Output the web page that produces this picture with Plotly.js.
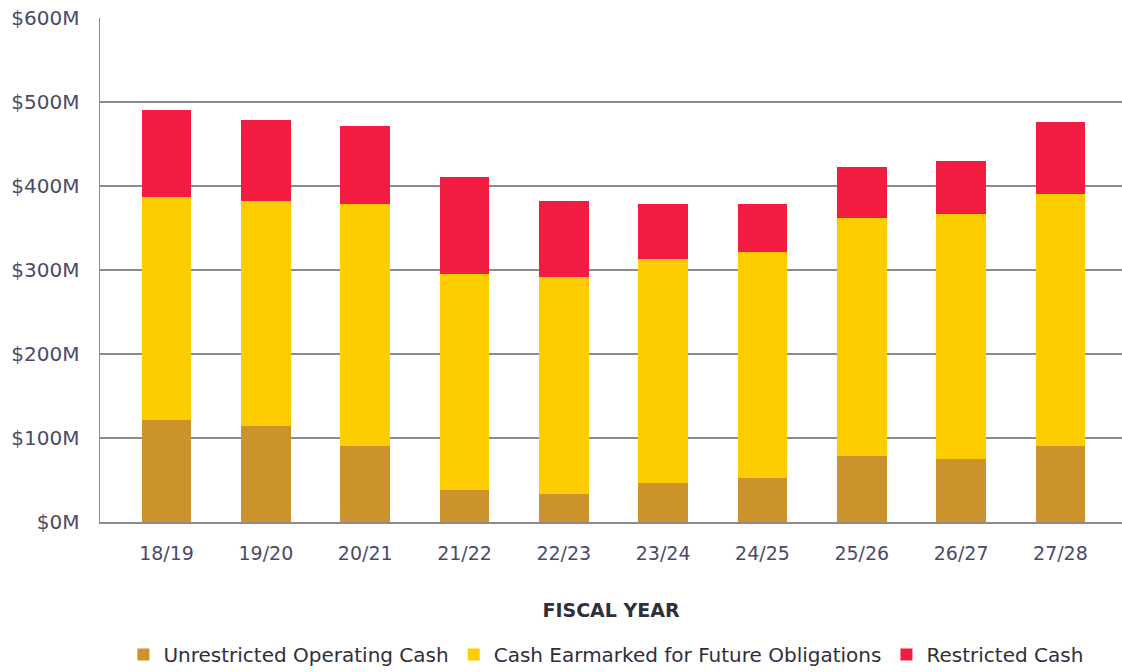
<!DOCTYPE html>
<html>
<head>
<meta charset="utf-8">
<script src="https://cdn.plot.ly/plotly-3.0.1.min.js"></script>
<style>
  html, body { margin: 0; padding: 0; background: #fff; }
  #chart { width: 1122px; height: 672px; }
</style>
</head>
<body>
<div id="chart"></div>
<script>
// fiscal years on the x axis
var years = ["18/19", "19/20", "20/21", "21/22", "22/23", "23/24", "24/25", "25/26", "26/27", "27/28"];

// cash balances, $M
var unrestricted = [122, 114, 91, 38, 33, 46, 52, 78, 75, 90];
var earmarked = [265, 268, 287, 257, 259, 267, 269, 284, 292, 301];
var restricted = [103, 96, 93, 116, 90, 65, 57, 61, 63, 85];

var textColor = "#4b4a68";
var font = "DejaVu Sans, Verdana, sans-serif";

var traceUnres = {
  x: years,
  y: unrestricted,
  name: "Unrestricted Operating Cash",
  type: "bar",
  marker: { color: "#cc922c" }
};
var traceEarmarked = {
  x: years,
  y: earmarked,
  name: "Cash Earmarked for Future Obligations",
  type: "bar",
  marker: { color: "#fecd00" }
};
var traceRestricted = {
  x: years,
  y: restricted,
  name: "Restricted Cash",
  type: "bar",
  marker: { color: "#f11c40" }
};

var data = [traceUnres, traceEarmarked, traceRestricted];

var layout = {
  barmode: "stack",
  bargap: 0.5,
  width: 1122,
  height: 672,
  margin: { l: 100, r: 0, t: 18, b: 150 },
  paper_bgcolor: "#ffffff",
  plot_bgcolor: "#ffffff",
  font: { family: font, color: textColor, size: 18 },
  xaxis: {
    range: [-0.67, 9.62],
    automargin: false,
    showline: true,
    linecolor: "#8c8c8c",
    linewidth: 1.5,
    ticks: "",
    ticklabelstandoff: 14,
    tickfont: { size: 19, color: textColor },
    title: {
      text: "<b>FISCAL YEAR</b>",
      font: { size: 19, color: "#2f2f3a" },
      standoff: 40
    }
  },
  yaxis: {
    range: [0, 600],
    automargin: false,
    dtick: 100,
    tickprefix: "$",
    ticksuffix: "M",
    showline: true,
    linecolor: "#8c8c8c",
    linewidth: 1.5,
    gridcolor: "#8c8c8c",
    gridwidth: 1.5,
    zeroline: false,
    ticks: "",
    ticklabelstandoff: 15,
    tickfont: { size: 20, color: textColor }
  },
  showlegend: true,
  legend: {
    orientation: "h",
    traceorder: "normal",
    xref: "container",
    yref: "container",
    x: 0.54,
    xanchor: "center",
    y: 0.055,
    yanchor: "top",
    font: { size: 20, color: "#2f2f3a" },
    itemsizing: "constant"
  }
};

Plotly.newPlot("chart", data, layout, { displayModeBar: false, staticPlot: true });
</script>
</body>
</html>
